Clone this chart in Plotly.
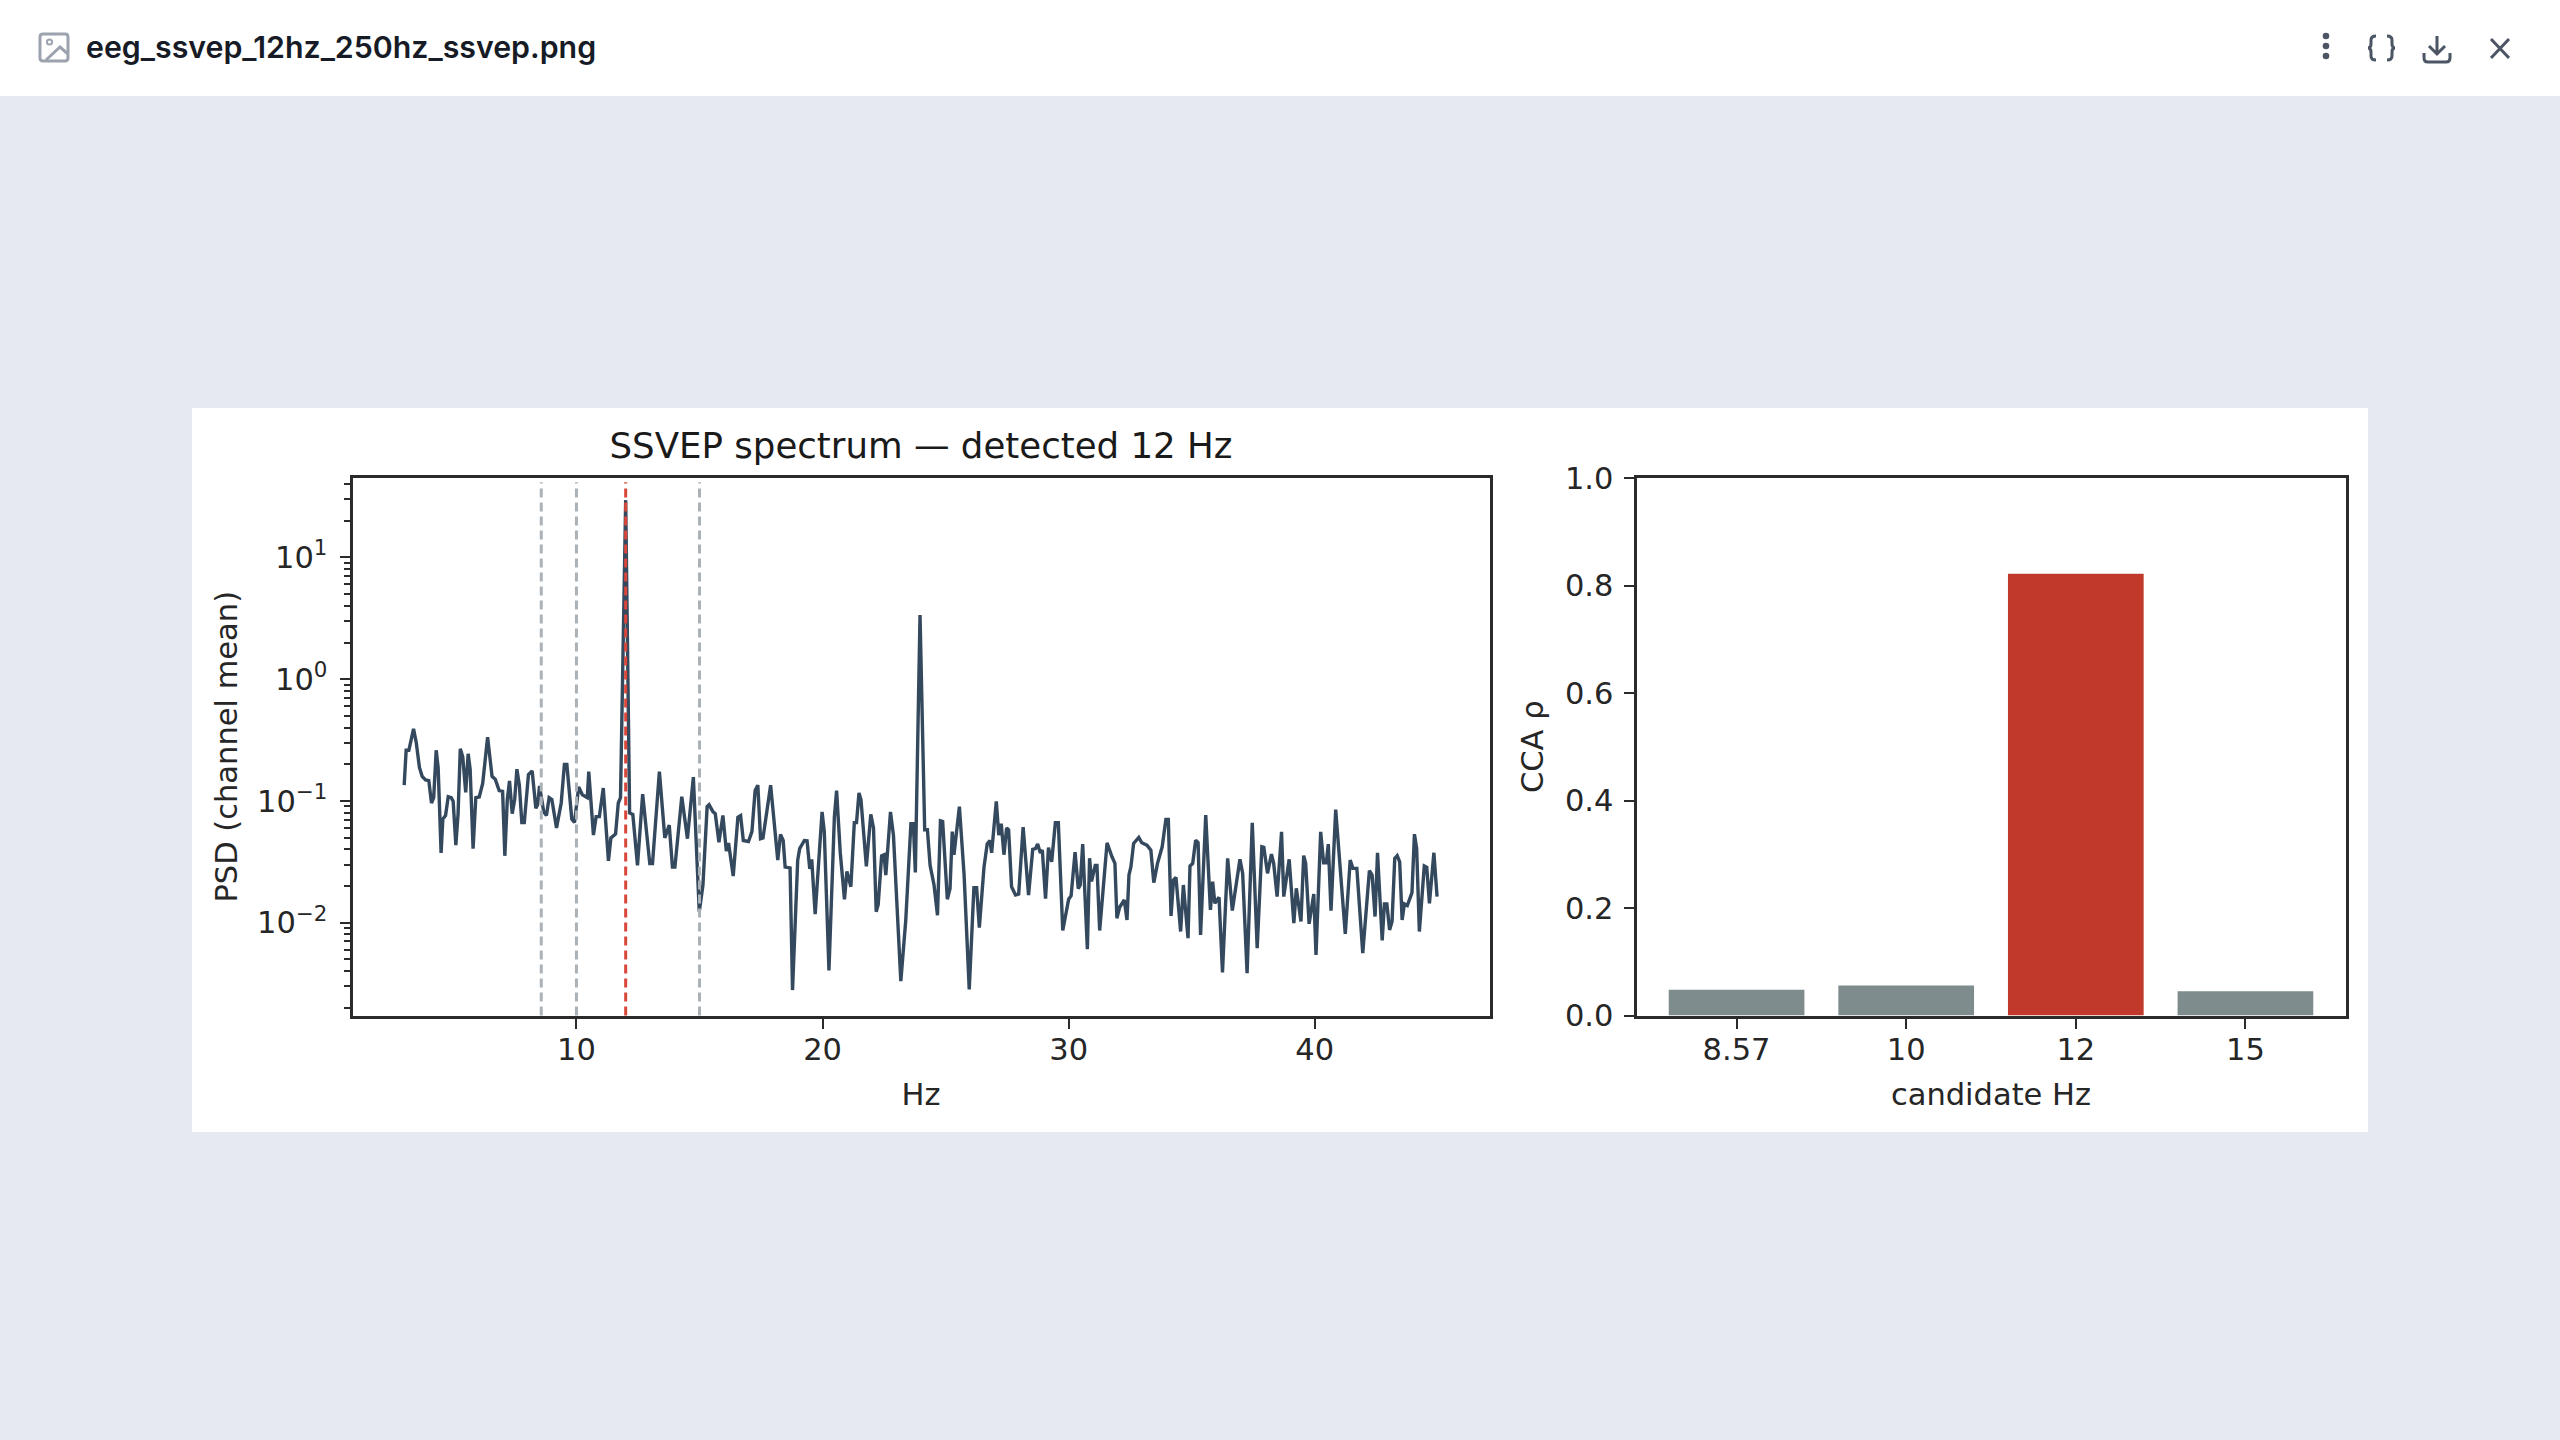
import plotly.graph_objects as go

W = 2560
H = 1440

# PSD spectrum, values (Hz, log10 of PSD)
hz = [3.0, 3.08, 3.19, 3.38, 3.49, 3.62, 3.73, 3.87, 4.0, 4.11, 4.2, 4.3, 4.38, 4.5, 4.57, 4.68, 4.79, 4.91, 4.99, 5.1,
      5.19, 5.28, 5.38, 5.5, 5.6, 5.68, 5.8, 5.91, 6.05, 6.19, 6.39, 6.57, 6.7, 6.86, 7.0, 7.09, 7.19, 7.28, 7.39, 7.49,
      7.58, 7.68, 7.78, 7.88, 8.05, 8.2, 8.35, 8.42, 8.5, 8.59, 8.67, 8.78, 8.89, 9.0, 9.19, 9.38, 9.51, 9.61, 9.81, 9.92,
      10.09, 10.24, 10.44, 10.5, 10.69, 10.8, 10.93, 11.09, 11.3, 11.4, 11.59, 11.7, 11.79, 12.0, 12.16, 12.29, 12.48,
      12.69, 12.98, 13.09, 13.37, 13.59, 13.77, 13.9, 14.0, 14.28, 14.51, 14.75, 14.99, 15.14, 15.31, 15.39, 15.55, 15.64,
      15.79, 15.95, 16.09, 16.18, 16.37, 16.56, 16.67, 16.78, 16.99, 17.13, 17.26, 17.37, 17.48, 17.58, 17.89, 18.18,
      18.29, 18.4, 18.48, 18.68, 18.78, 18.99, 19.07, 19.26, 19.37, 19.48, 19.56, 19.7, 19.98, 20.07, 20.26, 20.48, 20.57,
      20.72, 20.89, 20.99, 21.15, 21.29, 21.38, 21.48, 21.56, 21.78, 21.96, 22.07, 22.18, 22.26, 22.4, 22.5, 22.57, 22.76,
      22.88, 23.18, 23.38, 23.59, 23.69, 23.77, 23.96, 24.15, 24.26, 24.37, 24.53, 24.67, 24.79, 24.88, 25.07, 25.18,
      25.27, 25.34, 25.56, 25.75, 25.96, 26.15, 26.26, 26.37, 26.56, 26.69, 26.8, 26.87, 27.06, 27.16, 27.26, 27.37,
      27.48, 27.56, 27.68, 27.84, 27.97, 28.15, 28.37, 28.54, 28.65, 28.74, 28.85, 28.93, 29.06, 29.18, 29.31, 29.46,
      29.58, 29.76, 30.0, 30.1, 30.26, 30.39, 30.47, 30.57, 30.76, 30.85, 30.93, 31.08, 31.15, 31.26, 31.56, 31.76, 31.88,
      31.96, 32.07, 32.26, 32.37, 32.45, 32.53, 32.64, 32.85, 32.97, 33.18, 33.34, 33.46, 33.61, 33.8, 33.95, 34.05,
      34.16, 34.26, 34.36, 34.55, 34.66, 34.85, 34.93, 35.04, 35.16, 35.26, 35.36, 35.57, 35.76, 35.85, 35.94, 36.11,
      36.25, 36.46, 36.65, 36.96, 37.07, 37.25, 37.46, 37.66, 37.85, 37.93, 38.08, 38.24, 38.33, 38.47, 38.65, 38.74,
      38.96, 39.15, 39.25, 39.44, 39.55, 39.63, 39.77, 39.96, 40.05, 40.24, 40.36, 40.47, 40.55, 40.66, 40.85, 41.04,
      41.24, 41.44, 41.55, 41.71, 41.95, 42.22, 42.33, 42.45, 42.55, 42.74, 42.83, 42.93, 43.04, 43.14, 43.25, 43.35,
      43.45, 43.55, 43.64, 43.76, 43.95, 44.05, 44.14, 44.25, 44.45, 44.55, 44.66, 44.84, 44.97]
log_psd = [-0.871, -0.584, -0.584, -0.408, -0.52, -0.725, -0.798, -0.827, -0.833, -1.017, -0.973, -0.584, -0.725, -1.427,
           -1.149, -1.12, -0.965, -0.973, -1.003, -1.363, -1.105, -0.572, -0.637, -0.929, -0.613, -0.739, -1.392, -0.973,
           -0.968, -0.856, -0.476, -0.798, -0.821, -0.915, -0.921, -1.451, -0.988, -0.836, -1.105, -0.988, -0.739, -0.871,
           -1.178, -1.178, -0.783, -0.754, -1.061, -1.032, -0.877, -1.017, -1.09, -1.12, -0.973, -0.988, -1.222, -1.017,
           -0.701, -0.701, -1.149, -1.178, -0.886, -0.95, -0.973, -0.76, -1.281, -1.129, -1.129, -0.894, -1.492, -1.304,
           -1.272, -1.017, -0.973, 1.471, -1.099, -1.111, -1.53, -0.944, -1.515, -1.515, -0.76, -1.304, -1.199, -1.544,
           -1.544, -0.965, -1.31, -0.804, -1.91, -1.691, -1.047, -1.032, -1.09, -1.105, -1.339, -1.12, -1.413, -1.345,
           -1.617, -1.134, -1.12, -1.325, -1.333, -1.252, -0.915, -0.871, -1.31, -1.304, -0.871, -1.486, -1.275, -1.325,
           -1.544, -1.55, -2.554, -1.486, -1.392, -1.325, -1.328, -1.559, -1.48, -1.931, -1.09, -1.252, -2.393, -1.134,
           -0.915, -1.427, -1.808, -1.579, -1.705, -1.178, -1.178, -0.935, -0.988, -1.538, -1.111, -1.222, -1.91, -1.852,
           -1.451, -1.442, -1.609, -1.09, -1.281, -2.481, -1.983, -1.187, -1.187, -1.588, 0.528, -1.237, -1.237, -1.53,
           -1.691, -1.939, -1.164, -1.17, -1.808, -1.72, -1.252, -1.442, -1.047, -1.603, -2.548, -1.714, -1.714, -2.042,
           -1.544, -1.354, -1.325, -1.427, -1.003, -1.281, -1.187, -1.442, -1.222, -1.237, -1.705, -1.773, -1.764, -1.216,
           -1.773, -1.398, -1.392, -1.354, -1.427, -1.404, -1.802, -1.383, -1.5, -1.178, -1.178, -2.065, -1.808, -1.778,
           -1.421, -1.72, -1.691, -1.354, -2.218, -1.471, -1.661, -1.53, -1.53, -2.065, -1.344, -1.459, -1.513, -1.964,
           -1.874, -1.814, -1.978, -1.609, -1.541, -1.349, -1.3, -1.344, -1.363, -1.404, -1.672, -1.513, -1.377, -1.153,
           -1.153, -1.945, -1.65, -1.628, -2.073, -1.691, -2.128, -1.535, -1.513, -1.322, -1.344, -2.101, -1.117, -1.896,
           -1.664, -1.841, -1.792, -2.409, -1.472, -1.901, -1.48, -1.595, -2.415, -1.18, -2.21, -1.377, -1.382, -1.595,
           -1.437, -1.513, -1.786, -1.254, -1.786, -1.48, -2.005, -1.718, -1.991, -1.45, -1.513, -2.01, -1.765, -2.265,
           -1.254, -1.508, -1.508, -1.355, -1.901, -1.071, -1.541, -2.092, -1.486, -1.554, -1.554, -2.251, -1.573, -1.609,
           -1.95, -1.426, -2.147, -1.847, -1.847, -2.06, -1.991, -1.472, -1.45, -1.5, -1.978, -1.847, -1.86, -1.754,
           -1.273, -1.39, -2.073, -1.535, -1.546, -1.841, -1.426, -1.786]
psd = [10 ** v for v in log_psd]

psd_ticks = [0.01, 0.1, 1, 10]
psd_tick_labels = ["10<sup>−2</sup>", "10<sup>−1</sup>", "10<sup>0</sup>", "10<sup>1</sup>"]

candidates = [8.57, 10, 12, 15]
detected = 12
candidate_labels = ["8.57", "10", "12", "15"]
cca_rho = [0.048, 0.056, 0.822, 0.045]

LINE = "#34495e"
GREY_BAR = "#7f8c8d"
RED = "#c0392b"
INK = "#262626"
AXIS = "#2b2b2b"
ICON = "#4b5563"
FONT = "DejaVu Sans"


# page positions for the viewer chrome, given in pixels
def fx(x):
    return x / W


def fy(y):
    return 1 - y / H


def pt(x, y):
    return f"{fx(x):.5f},{fy(y):.5f}"


def path_shape(d, color=ICON, width=3, fill=None):
    s = dict(type="path", xref="paper", yref="paper", path=d, line=dict(color=color, width=width), layer="above")
    if fill:
        s["fillcolor"] = fill
    return s


def rect(x0, y0, x1, y1, color):
    return dict(type="rect", xref="paper", yref="paper", x0=fx(x0), x1=fx(x1), y0=fy(y1), y1=fy(y0),
                fillcolor=color, line=dict(width=0), layer="below")


def dot(cx, cy, r, color, fill=True, width=0):
    return dict(type="circle", xref="paper", yref="paper", x0=fx(cx - r), x1=fx(cx + r), y0=fy(cy + r), y1=fy(cy - r),
                fillcolor=color if fill else "rgba(0,0,0,0)", line=dict(color=color, width=width), layer="above")


fig = go.Figure()

fig.add_trace(go.Scatter(x=hz, y=psd, mode="lines", line=dict(color=LINE, width=3.4), xaxis="x", yaxis="y",
                         showlegend=False))
fig.add_trace(go.Bar(x=candidate_labels, y=cca_rho, width=0.8, xaxis="x2", yaxis="y2", showlegend=False,
                     marker=dict(color=[RED if c == detected else GREY_BAR for c in candidates], line=dict(width=0))))

shapes = [
    rect(0, 0, W, 96, "#ffffff"),
    rect(192, 408, 2368, 1132, "#ffffff"),
]

# candidate frequency markers
for c in candidates:
    col = "#d9463a" if c == detected else "#aab2b8"
    shapes.append(dict(type="line", xref="x", yref="y domain", x0=c, x1=c, y0=0, y1=0.992, layer="above",
                       line=dict(color=col, width=3, dash="9px,5px")))

# image icon
shapes.append(path_shape(f"M{pt(43,34)} L{pt(65,34)} Q{pt(68,34)} {pt(68,37)} L{pt(68,58)} Q{pt(68,61)} {pt(65,61)} "
                         f"L{pt(43,61)} Q{pt(40,61)} {pt(40,58)} L{pt(40,37)} Q{pt(40,34)} {pt(43,34)} Z",
                         color="#9ca3af"))
shapes.append(dot(49.5, 42, 2.6, "#9ca3af", fill=False, width=2))
shapes.append(path_shape(f"M{pt(46,60)} L{pt(60,47)} L{pt(68,54)}", color="#9ca3af"))
# three dots
for y in [36, 46, 56]:
    shapes.append(dot(2326, y, 3.3, ICON))
# braces
shapes.append(path_shape(f"M{pt(2376,36)} Q{pt(2371,36)} {pt(2371,40)} L{pt(2371,44)} Q{pt(2371,48)} {pt(2368,48)} "
                         f"Q{pt(2371,48)} {pt(2371,52)} L{pt(2371,56)} Q{pt(2371,60)} {pt(2376,60)}"))
shapes.append(path_shape(f"M{pt(2387,36)} Q{pt(2392,36)} {pt(2392,40)} L{pt(2392,44)} Q{pt(2392,48)} {pt(2395,48)} "
                         f"Q{pt(2392,48)} {pt(2392,52)} L{pt(2392,56)} Q{pt(2392,60)} {pt(2387,60)}"))
# download
shapes.append(path_shape(f"M{pt(2437,36)} L{pt(2437,54)} M{pt(2429,46)} L{pt(2437,54)} L{pt(2445,46)}"))
shapes.append(path_shape(f"M{pt(2424,53)} L{pt(2424,58)} Q{pt(2424,62)} {pt(2428,62)} L{pt(2446,62)} "
                         f"Q{pt(2450,62)} {pt(2450,58)} L{pt(2450,53)}"))
# close
shapes.append(path_shape(f"M{pt(2491,39)} L{pt(2509,58)} M{pt(2509,39)} L{pt(2491,58)}"))

axis_style = dict(showline=True, linecolor=AXIS, linewidth=3, mirror=True, showgrid=False, zeroline=False,
                  automargin=False, ticks="outside", ticklen=10, tickwidth=2, tickcolor=AXIS,
                  tickfont=dict(family=FONT, size=30.5, color=INK))
title_font = dict(family=FONT, size=30.5, color=INK)

fig.update_layout(
    width=W,
    height=H,
    margin=dict(l=0, r=0, t=0, b=0),
    paper_bgcolor="#e6e9f2",
    plot_bgcolor="#ffffff",
    bargap=0.2,
    title=dict(text="SSVEP spectrum — detected 12 Hz", x=921 / W, y=fy(445.5), xanchor="center", yanchor="middle",
               automargin=False, font=dict(family=FONT, size=35.6, color="#1a1a1a")),
    xaxis=dict(domain=[352.5 / W, 1489.5 / W], range=[0.9, 47.1], anchor="y", tickmode="array",
               tickvals=[10, 20, 30, 40], ticklabelstandoff=-5,
               title=dict(text="Hz", font=title_font, standoff=18), **axis_style),
    yaxis=dict(domain=[fy(1015.5), fy(478)], type="log", range=[-2.763, 1.653], anchor="x", tickmode="array",
               tickvals=psd_ticks, ticktext=psd_tick_labels, ticklabelstandoff=6,
               minor=dict(dtick="D1", ticks="outside", ticklen=6, tickwidth=1.6, tickcolor=AXIS, showgrid=False),
               title=dict(text="PSD (channel mean)", font=title_font, standoff=11), **axis_style),
    xaxis2=dict(domain=[1636.5 / W, 2345.5 / W], type="category", categoryorder="array",
                categoryarray=candidate_labels, range=[-0.59, 3.59], anchor="y2", ticklabelstandoff=-5,
                title=dict(text="candidate Hz", font=title_font, standoff=18), **axis_style),
    yaxis2=dict(domain=[fy(1015.5), fy(478)], range=[0, 1], anchor="x2", tickmode="array",
                tickvals=[0, 0.2, 0.4, 0.6, 0.8, 1.0], tickformat=".1f", ticklabelstandoff=4,
                title=dict(text="CCA ρ", font=title_font, standoff=13), **axis_style),
    shapes=shapes,
    annotations=[
        dict(text="eeg_ssvep_12hz_250hz_ssvep.png", xref="paper", yref="paper", x=fx(84), y=fy(47), xanchor="left",
             yanchor="middle", showarrow=False, font=dict(family="Inter", size=30.3, color="#161b26", weight=600)),
    ],
)

fig.write_html("out.html", config=dict(displayModeBar=False),
               post_script="document.body.style.margin='0';document.body.style.overflow='hidden';")
